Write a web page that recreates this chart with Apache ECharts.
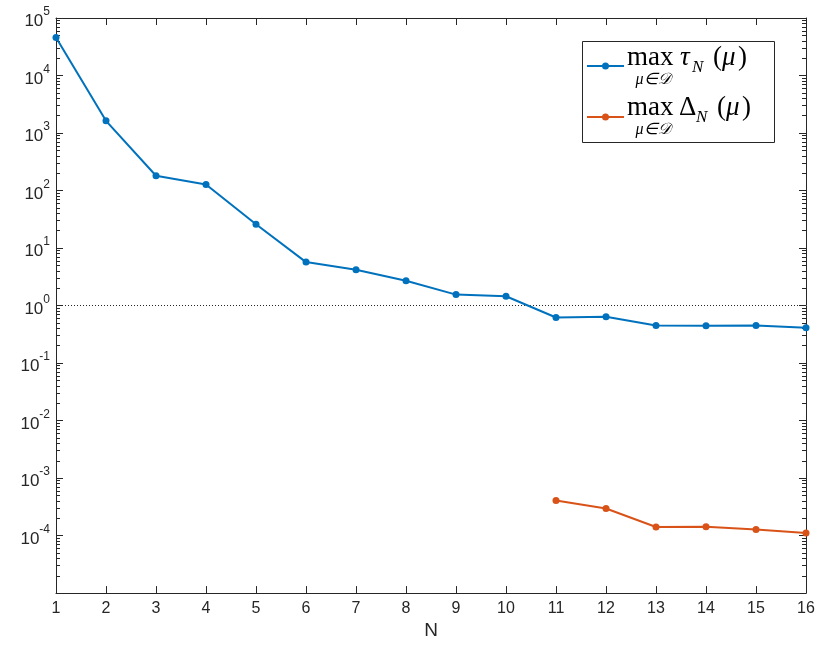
<!DOCTYPE html>
<html>
<head>
<meta charset="utf-8">
<script src="https://cdn.jsdelivr.net/npm/echarts@6/dist/echarts.min.js"></script>
<style>
html,body{margin:0;padding:0;background:#fff;}
#chart{width:819px;height:645px;}
</style>
</head>
<body>
<div id="chart"></div>
<script>
// ---- data ----
const nValues = [1,2,3,4,5,6,7,8,9,10,11,12,13,14,15,16];
const tauMax = [46000,1630,181,127,25.9,5.7,4.18,2.7,1.55,1.45,0.62,0.64,0.45,0.445,0.45,0.41];
const deltaN = [11,12,13,14,15,16];
const deltaMax = [4.06e-4,2.96e-4,1.41e-4,1.42e-4,1.27e-4,1.11e-4];
const yMin = 1e-5, yMax = 1e5;
const xMin = 1, xMax = 16;
const refLevel = 1;

const AX = '#262626';
const BLUE = '#0072BD';
const ORANGE = '#D95319';
const SANS = 'Liberation Sans, Arial, Helvetica, sans-serif';
const SERIF = 'Liberation Serif, Times New Roman, serif';

const tauData = nValues.map((n,i)=>[n,tauMax[i]]);
const deltaData = deltaN.map((n,i)=>[n,deltaMax[i]]);

function yFmt(v){
  const e = Math.round(Math.log10(v));
  if (e === -5) return '';
  return '{b|10}{s|' + e + '}';
}

const chart = echarts.init(document.getElementById('chart'), null, {renderer:'canvas'});
const yLabelRich = {
  b:{fontSize:17, fontFamily:SANS, color:AX, verticalAlign:'bottom', lineHeight:24},
  s:{fontSize:12, fontFamily:SANS, color:AX, verticalAlign:'top', lineHeight:24}
};
const option = {
  animation:false,
  backgroundColor:'#fff',
  grid:{left:56, right:13, top:18, bottom:47, containLabel:false},
  xAxis:[{
    type:'value', min:xMin, max:xMax, interval:1, position:'bottom',
    axisLine:{show:true, lineStyle:{color:AX, width:1}},
    axisTick:{show:true, inside:true, length:7, lineStyle:{color:AX}},
    axisLabel:{margin:7, fontSize:16, fontFamily:SANS, color:AX},
    splitLine:{show:false},
    name:'N', nameLocation:'middle', nameGap:22,
    nameTextStyle:{fontSize:19, fontFamily:SANS, color:AX, verticalAlign:'top'}
  },{
    type:'value', min:xMin, max:xMax, interval:1, position:'top',
    axisLine:{show:true, lineStyle:{color:AX, width:1}},
    axisTick:{show:true, inside:true, length:7, lineStyle:{color:AX}},
    axisLabel:{show:false}, splitLine:{show:false}
  }],
  yAxis:[{
    type:'log', logBase:10, min:yMin, max:yMax, interval:1, position:'left',
    axisLine:{show:true, lineStyle:{color:AX, width:1}},
    axisTick:{show:true, inside:true, length:7, lineStyle:{color:AX}},
    minorTick:{show:true, splitNumber:9, length:4, lineStyle:{color:AX}},
    axisLabel:{margin:6, fontSize:17, fontFamily:SANS, color:AX, formatter:yFmt, rich:yLabelRich},
    splitLine:{show:false}, minorSplitLine:{show:false}
  },{
    type:'log', logBase:10, min:yMin, max:yMax, interval:1, position:'right',
    axisLine:{show:true, lineStyle:{color:AX, width:1}},
    axisTick:{show:true, inside:true, length:7, lineStyle:{color:AX}},
    minorTick:{show:true, splitNumber:9, length:4, lineStyle:{color:AX}},
    axisLabel:{show:false},
    splitLine:{show:false}, minorSplitLine:{show:false}
  }],
  series:[{
    type:'line', name:'tau', xAxisIndex:0, yAxisIndex:0, data:tauData,
    symbol:'circle', symbolSize:7, showSymbol:true,
    lineStyle:{color:BLUE, width:2}, itemStyle:{color:BLUE},
    z:5,
    markLine:{
      silent:true, symbol:'none', label:{show:false},
      lineStyle:{color:AX, width:1, type:[1,2]},
      data:[{yAxis:refLevel}]
    }
  },{
    type:'line', name:'delta', xAxisIndex:0, yAxisIndex:0, data:deltaData,
    symbol:'circle', symbolSize:7, showSymbol:true,
    lineStyle:{color:ORANGE, width:2}, itemStyle:{color:ORANGE},
    z:5
  }],
  graphic:[
    {type:'rect', shape:{x:582.5, y:41.5, width:192, height:101}, style:{fill:'#fff', stroke:AX, lineWidth:1}, z:100},
    {type:'line', shape:{x1:587, y1:66, x2:624, y2:66}, style:{stroke:BLUE, lineWidth:2}, z:101},
    {type:'circle', shape:{cx:605.5, cy:66, r:3.5}, style:{fill:BLUE}, z:101},
    {type:'line', shape:{x1:587, y1:117, x2:624, y2:117}, style:{stroke:ORANGE, lineWidth:2}, z:101},
    {type:'circle', shape:{cx:605.5, cy:117, r:3.5}, style:{fill:ORANGE}, z:101},
    // entry 1
    {type:'text', x:627, y:58, z:101, style:{text:'max', font:'27px '+SERIF, fill:'#000', verticalAlign:'middle'}},
    {type:'text', x:680, y:58, z:101, style:{text:'τ', font:'italic 27px '+SERIF, fill:'#000', verticalAlign:'middle'}},
    {type:'text', x:692, y:68, z:101, style:{text:'N', font:'italic 17px '+SERIF, fill:'#000', verticalAlign:'middle'}},
    {type:'text', x:713, y:58, z:101, style:{text:'(', font:'27px '+SERIF, fill:'#000', verticalAlign:'middle'}},
    {type:'text', x:722, y:58, z:101, style:{text:'μ', font:'italic 27px '+SERIF, fill:'#000', verticalAlign:'middle'}},
    {type:'text', x:738, y:58, z:101, style:{text:')', font:'27px '+SERIF, fill:'#000', verticalAlign:'middle'}},
    {type:'text', x:653, y:80, z:101, style:{text:'μ∈𝒟', font:'italic 16px '+SERIF, fill:'#000', align:'center', verticalAlign:'middle'}},
    // entry 2
    {type:'text', x:627, y:108, z:101, style:{text:'max', font:'27px '+SERIF, fill:'#000', verticalAlign:'middle'}},
    {type:'text', x:679, y:108, z:101, style:{text:'Δ', font:'27px '+SERIF, fill:'#000', verticalAlign:'middle'}},
    {type:'text', x:696, y:118, z:101, style:{text:'N', font:'italic 17px '+SERIF, fill:'#000', verticalAlign:'middle'}},
    {type:'text', x:717, y:108, z:101, style:{text:'(', font:'27px '+SERIF, fill:'#000', verticalAlign:'middle'}},
    {type:'text', x:726, y:108, z:101, style:{text:'μ', font:'italic 27px '+SERIF, fill:'#000', verticalAlign:'middle'}},
    {type:'text', x:742, y:108, z:101, style:{text:')', font:'27px '+SERIF, fill:'#000', verticalAlign:'middle'}},
    {type:'text', x:653, y:130, z:101, style:{text:'μ∈𝒟', font:'italic 16px '+SERIF, fill:'#000', align:'center', verticalAlign:'middle'}}
  ]
};
chart.setOption(option);
</script>
</body>
</html>
